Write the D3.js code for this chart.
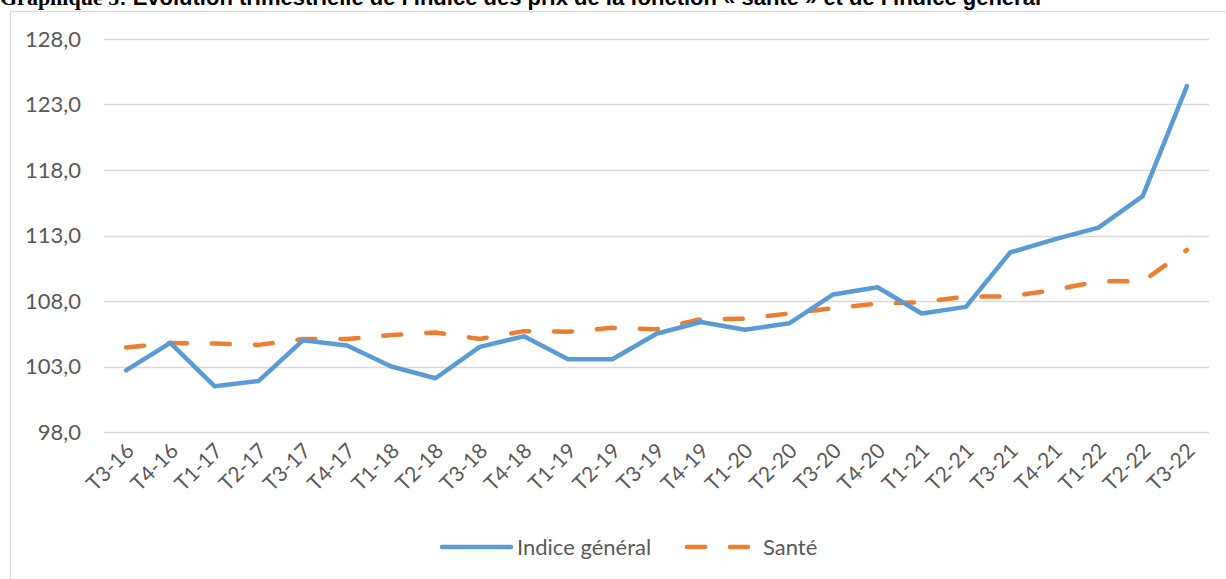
<!DOCTYPE html>
<html>
<head>
<meta charset="utf-8">
<script src="https://cdn.jsdelivr.net/npm/d3@7"></script>
<style>
  body { margin: 0; background: #fff; }
  svg { display: block; }
</style>
</head>
<body>
<svg id="chart" width="1226" height="579"></svg>
<script>
// Quarters
var quarters = ['T3-16', 'T4-16', 'T1-17', 'T2-17', 'T3-17', 'T4-17', 'T1-18', 'T2-18', 'T3-18', 'T4-18',
  'T1-19', 'T2-19', 'T3-19', 'T4-19', 'T1-20', 'T2-20', 'T3-20', 'T4-20', 'T1-21', 'T2-21',
  'T3-21', 'T4-21', 'T1-22', 'T2-22', 'T3-22'];

// Indice général
var general = [102.7, 104.8, 101.5, 101.9, 105.0, 104.6, 103.0, 102.1, 104.5, 105.3,
  103.55, 103.55, 105.5, 106.4, 105.8, 106.3, 108.5, 109.05, 107.05, 107.55,
  111.7, 112.7, 113.6, 116.0, 124.4];

// Santé
var sante = [104.45, 104.8, 104.75, 104.65, 105.1, 105.1, 105.4, 105.6, 105.1, 105.7,
  105.65, 105.95, 105.85, 106.6, 106.65, 107.05, 107.45, 107.8, 107.9, 108.35,
  108.35, 108.85, 109.5, 109.5, 111.9];

var yTicks = [98, 103, 108, 113, 118, 123, 128];

var svg = d3.select('#chart');
var labelColor = '#595959';
var font = 'Lato, "Open Sans", sans-serif';

// title (cut by the top of the picture, as in the original)
var title = svg.append('text')
  .attr('x', 0)
  .attr('y', 5)
  .style('font-weight', 'bold')
  .style('font-size', '22px')
  .style('fill', '#000');
title.append('tspan')
  .style('font-family', '"Liberation Serif", "Times New Roman", serif')
  .text('Graphique 5');
title.append('tspan')
  .style('font-family', '"Liberation Sans", Arial, sans-serif')
  .text(': Evolution trimestrielle de l\u2019indice des prix de la fonction \u00ab santé \u00bb et de l\u2019indice général');

// chart frame
svg.append('rect')
  .attr('x', 10.5)
  .attr('y', 11.5)
  .attr('width', 1230)
  .attr('height', 600)
  .attr('fill', 'none')
  .attr('stroke', '#d9d9d9')
  .attr('stroke-width', 1.2);

var x = d3.scaleBand()
  .domain(quarters)
  .range([104, 1209]);

var y = d3.scaleLinear()
  .domain([98, 128])
  .range([432, 39]);

// gridlines
svg.append('g')
  .selectAll('line')
  .data(yTicks)
  .enter().append('line')
  .attr('x1', 104)
  .attr('x2', 1209)
  .attr('y1', function (d) { return Math.round(y(d)) + 0.5; })
  .attr('y2', function (d) { return Math.round(y(d)) + 0.5; })
  .attr('stroke', '#d9d9d9')
  .attr('stroke-width', 1.5);

// y axis labels
svg.append('g')
  .selectAll('text')
  .data(yTicks)
  .enter().append('text')
  .attr('x', 81)
  .attr('y', function (d) { return y(d); })
  .attr('dy', '0.35em')
  .attr('text-anchor', 'end')
  .style('font-family', font)
  .style('font-size', '22px')
  .style('fill', labelColor)
  .text(function (d) { return d3.format('.1f')(d).replace('.', ','); });

// x axis labels
svg.append('g')
  .selectAll('text')
  .data(quarters)
  .enter().append('text')
  .attr('transform', function (d) {
    return 'translate(' + (x(d) + x.bandwidth() / 2 + 4) + ',447) rotate(-45)';
  })
  .attr('text-anchor', 'end')
  .attr('dy', '0.35em')
  .style('font-family', font)
  .style('font-size', '21px')
  .style('fill', labelColor)
  .text(function (d) { return d; });

var line = d3.line()
  .x(function (d, i) { return x(quarters[i]) + x.bandwidth() / 2; })
  .y(function (d) { return y(d); });

svg.append('path')
  .datum(sante)
  .attr('d', line)
  .attr('fill', 'none')
  .attr('stroke', '#ED7D31')
  .attr('stroke-width', 4.5)
  .attr('stroke-linecap', 'round')
  .attr('stroke-linejoin', 'round')
  .attr('stroke-dasharray', '18,25');

svg.append('path')
  .datum(general)
  .attr('d', line)
  .attr('fill', 'none')
  .attr('stroke', '#5B9BD5')
  .attr('stroke-width', 4.5)
  .attr('stroke-linecap', 'round')
  .attr('stroke-linejoin', 'round');

// legend
var legend = svg.append('g');
legend.append('line')
  .attr('x1', 442).attr('x2', 511)
  .attr('y1', 547).attr('y2', 547)
  .attr('stroke', '#5B9BD5')
  .attr('stroke-width', 4.5)
  .attr('stroke-linecap', 'round');
legend.append('text')
  .attr('x', 517)
  .attr('y', 547)
  .attr('dy', '0.35em')
  .style('font-family', font)
  .style('font-size', '22px')
  .style('fill', labelColor)
  .text('Indice général');
legend.append('line')
  .attr('x1', 687).attr('x2', 749)
  .attr('y1', 547).attr('y2', 547)
  .attr('stroke', '#ED7D31')
  .attr('stroke-width', 4.5)
  .attr('stroke-linecap', 'round')
  .attr('stroke-dasharray', '18,25');
legend.append('text')
  .attr('x', 763)
  .attr('y', 547)
  .attr('dy', '0.35em')
  .style('font-family', font)
  .style('font-size', '22px')
  .style('fill', labelColor)
  .text('Santé');
</script>
</body>
</html>
